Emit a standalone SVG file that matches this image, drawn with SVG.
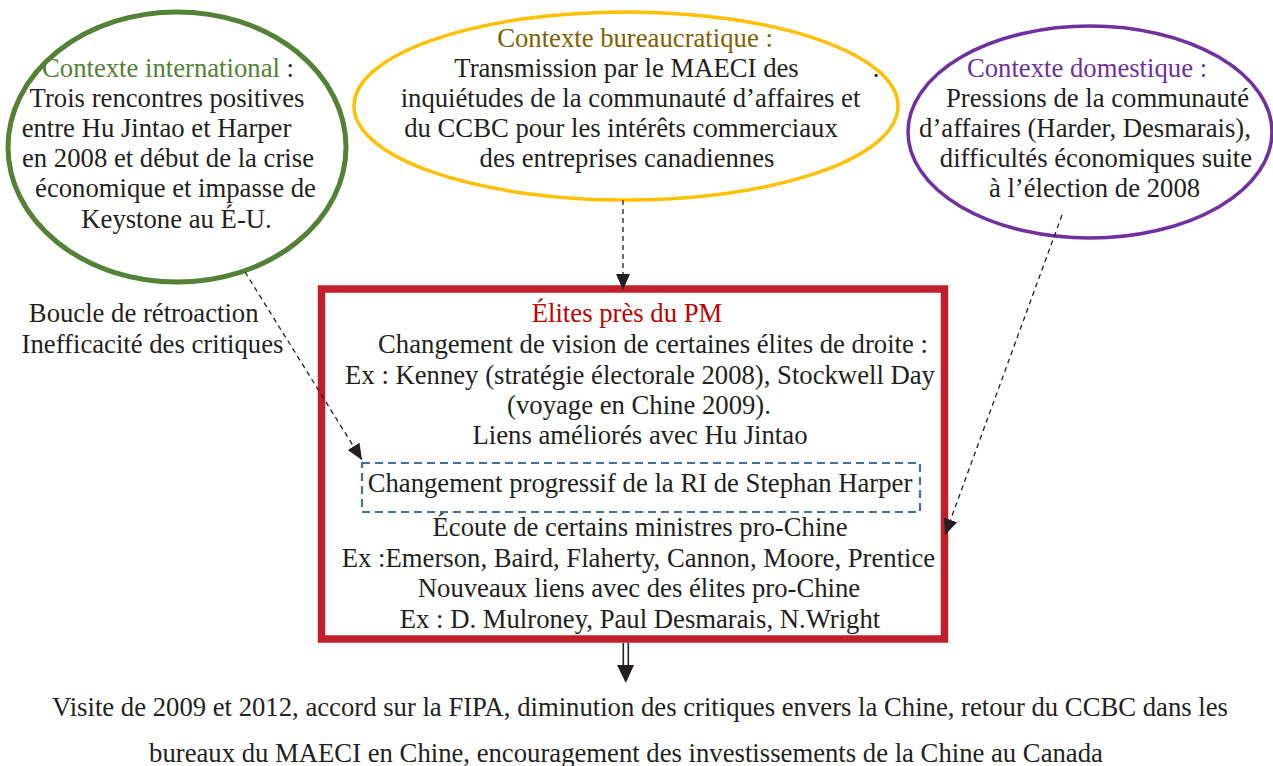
<svg xmlns="http://www.w3.org/2000/svg" width="1273" height="766" viewBox="0 0 1273 766">
<style>
text{font-family:"Liberation Serif","Times New Roman",serif;font-size:26.7px;fill:#231F20;text-anchor:middle}
.conn{fill:none;stroke:#231F20;stroke-width:1.3;stroke-dasharray:5 4}
.green{fill:#538135}.brown{fill:#7F6000}.purple{fill:#7030A0}.red{fill:#C00000}
</style>
<defs>
<marker id="ah" markerUnits="userSpaceOnUse" markerWidth="18" markerHeight="16" refX="16" refY="7" orient="auto">
<path d="M0,0 L16,7 L0,14 Z" fill="#231F20"/>
</marker>
</defs>
<rect width="1273" height="766" fill="#fff"/>
<g id="n-international">
<ellipse cx="177" cy="147" rx="169" ry="135" fill="none" stroke="#538135" stroke-width="5"/>
<text x="168" y="77"><tspan class="green">Contexte international</tspan> :</text>
<text x="167" y="107">Trois rencontres positives</text>
<text x="156.5" y="137">entre Hu Jintao et Harper</text>
<text x="168" y="167">en 2008 et début de la crise</text>
<text x="175.5" y="197">économique et impasse de</text>
<text x="176.5" y="228">Keystone au É-U.</text>
</g>
<g id="n-bureaucratique">
<ellipse cx="626" cy="106" rx="272" ry="94" fill="none" stroke="#FFC000" stroke-width="3.5"/>
<text x="635" y="47" class="brown">Contexte bureaucratique :</text>
<text x="626.5" y="77">Transmission par le MAECI des</text>
<text x="876" y="77">.</text>
<text x="630.5" y="107">inquiétudes de la communauté d’affaires et</text>
<text x="621" y="137">du CCBC pour les intérêts commerciaux</text>
<text x="627" y="167">des entreprises canadiennes</text>
</g>
<g id="n-domestique">
<ellipse cx="1090" cy="132" rx="182" ry="106" fill="none" stroke="#7030A0" stroke-width="3.5"/>
<text x="1087" y="77" class="purple">Contexte domestique :</text>
<text x="1097.5" y="107">Pressions de la communauté</text>
<text x="1085" y="137">d’affaires (Harder, Desmarais),</text>
<text x="1096" y="167">difficultés économiques suite</text>
<text x="1094.5" y="197">à l’élection de 2008</text>
</g>
<g id="n-boucle">
<text x="143.7" y="322">Boucle de rétroaction</text>
<text x="152.5" y="353">Inefficacité des critiques</text>
</g>
<g id="n-elites">
<rect x="321.5" y="289" width="623" height="350" fill="none" stroke="#C1202A" stroke-width="7.5"/>
<text x="627" y="322" class="red">Élites près du PM</text>
<text x="653" y="353">Changement de vision de certaines élites de droite :</text>
<text x="640" y="384">Ex : Kenney (stratégie électorale 2008), Stockwell Day</text>
<text x="639" y="414">(voyage en Chine 2009).</text>
<text x="640" y="444">Liens améliorés avec Hu Jintao</text>
<text x="640" y="536">Écoute de certains ministres pro-Chine</text>
<text x="638.5" y="567">Ex :Emerson, Baird, Flaherty, Cannon, Moore, Prentice</text>
<text x="639" y="597">Nouveaux liens avec des élites pro-Chine</text>
<text x="640" y="628">Ex : D. Mulroney, Paul Desmarais, N.Wright</text>
</g>
<g id="n-ri">
<rect x="362" y="463" width="558" height="49" fill="none" stroke="#41719C" stroke-width="2.2" stroke-dasharray="8 5"/>
<text x="640" y="492">Changement progressif de la RI de Stephan Harper</text>
</g>
<g id="n-resultat">
<text x="640" y="716">Visite de 2009 et 2012, accord sur la FIPA, diminution des critiques envers la Chine, retour du CCBC dans les</text>
<text x="626" y="762">bureaux du MAECI en Chine, encouragement des investissements de la Chine au Canada</text>
</g>
<g id="connectors">
<line class="conn" x1="245" y1="272" x2="362" y2="460" marker-end="url(#ah)"/>
<line class="conn" x1="623" y1="200" x2="623" y2="290" marker-end="url(#ah)"/>
<line class="conn" x1="1062" y1="215" x2="945" y2="535" marker-end="url(#ah)"/>
<line x1="623.3" y1="643" x2="623.3" y2="668" stroke="#231F20" stroke-width="1.6"/>
<line x1="628.3" y1="643" x2="628.3" y2="668" stroke="#231F20" stroke-width="1.6"/>
<path d="M617,665 L634,665 L625.8,683 Z" fill="#231F20"/>
</g>
</svg>
